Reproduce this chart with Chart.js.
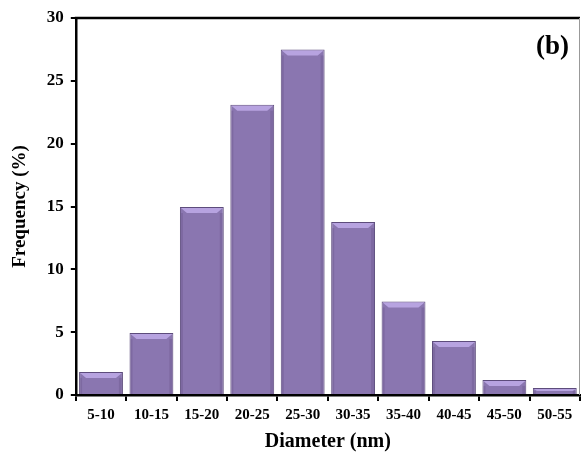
<!DOCTYPE html>
<html>
<head>
    <title>Diameter distribution</title>
    <script src="https://cdn.jsdelivr.net/npm/chart.js"></script>
    <style>
        html, body { margin: 0; padding: 0; background: #fff; }
        #wrap { width: 581px; height: 454px; }
    </style>
</head>
<body>
    <div id="wrap"><canvas id="histChart"></canvas></div>

    <script>
    // data
    const categories = ['5-10', '10-15', '15-20', '20-25', '25-30', '30-35', '35-40', '40-45', '45-50', '50-55'];
    const frequency = [1.84, 4.93, 14.96, 23.1, 27.5, 13.76, 7.44, 4.29, 1.2, 0.56];
    const yTicks = [0, 5, 10, 15, 20, 25, 30];

    const serif = '"Liberation Serif", "Times New Roman", serif';

    // top and right frame lines plus the "(b)" label
    const framePlugin = {
        id: 'frame',
        afterDraw(chart) {
            const a = chart.chartArea;
            const ctx = chart.ctx;
            ctx.save();
            ctx.strokeStyle = '#000';
            ctx.lineWidth = 2.5;
            ctx.beginPath();
            ctx.moveTo(a.left - 1, a.top);
            ctx.lineTo(a.right, a.top);
            ctx.stroke();
            ctx.strokeStyle = '#999';
            ctx.lineWidth = 1;
            ctx.beginPath();
            ctx.moveTo(a.right - 0.5, a.top);
            ctx.lineTo(a.right - 0.5, a.bottom);
            ctx.stroke();
            ctx.fillStyle = '#000';
            ctx.font = 'bold 27px ' + serif;
            ctx.textAlign = 'right';
            ctx.textBaseline = 'middle';
            ctx.fillText('(b)', a.right - 11, a.top + 29);
            ctx.restore();
        }
    };

    // light bevel on top of each bar
    const bevelPlugin = {
        id: 'bevel',
        afterDatasetsDraw(chart) {
            const ctx = chart.ctx;
            chart.getDatasetMeta(0).data.forEach(bar => {
                const l = bar.x - bar.width / 2, r = bar.x + bar.width / 2;
                const t = bar.y, b = bar.base;
                const h = Math.min(6, (b - t) / 2);
                ctx.save();
                ctx.fillStyle = '#b7a3e0';
                ctx.beginPath();
                ctx.moveTo(l + 1, t + 1);
                ctx.lineTo(r - 1, t + 1);
                ctx.lineTo(r - 1 - h, t + h);
                ctx.lineTo(l + 1 + h, t + h);
                ctx.closePath();
                ctx.fill();
                ctx.fillStyle = 'rgba(80,60,110,0.22)';
                ctx.fillRect(r - 4, t + h, 3, b - t - h);
                ctx.fillRect(l + 1, t + h, 2, b - t - h);
                ctx.restore();
            });
        }
    };

    new Chart(document.getElementById('histChart'), {
        type: 'bar',
        data: {
            labels: categories,
            datasets: [{
                data: frequency,
                backgroundColor: '#8a76b0',
                borderColor: '#5d4c7c',
                borderWidth: 1,
                barPercentage: 0.87,
                categoryPercentage: 1.0
            }]
        },
        options: {
            responsive: true,
            maintainAspectRatio: false,
            animation: false,
            layout: { padding: { top: 18, right: 1, left: 9, bottom: 0 } },
            plugins: {
                legend: { display: false },
                tooltip: { enabled: false }
            },
            scales: {
                x: {
                    grid: { display: true, drawOnChartArea: false, drawTicks: true, tickLength: 6, color: '#000', lineWidth: 2, offset: true },
                    border: { color: '#000', width: 2.5 },
                    ticks: { color: '#000', font: { family: serif, weight: 'bold', size: 15 }, padding: 5, maxRotation: 0 },
                    title: { display: true, text: 'Diameter (nm)', color: '#000', font: { family: serif, weight: 'bold', size: 20 }, padding: { top: 1, bottom: 0 } }
                },
                y: {
                    min: 0,
                    max: 30,
                    afterBuildTicks(axis) { axis.ticks = yTicks.map(v => ({ value: v })); },
                    grid: { display: true, drawOnChartArea: false, drawTicks: true, tickLength: 5, color: '#000', lineWidth: 2 },
                    border: { color: '#000', width: 2.5 },
                    ticks: { color: '#000', font: { family: serif, weight: 'bold', size: 17 }, padding: 7 },
                    title: { display: true, text: 'Frequency (%)', color: '#000', font: { family: serif, weight: 'bold', size: 19 }, padding: { top: 0, bottom: 8 } }
                }
            }
        },
        plugins: [framePlugin, bevelPlugin]
    });
    </script>
</body>
</html>
